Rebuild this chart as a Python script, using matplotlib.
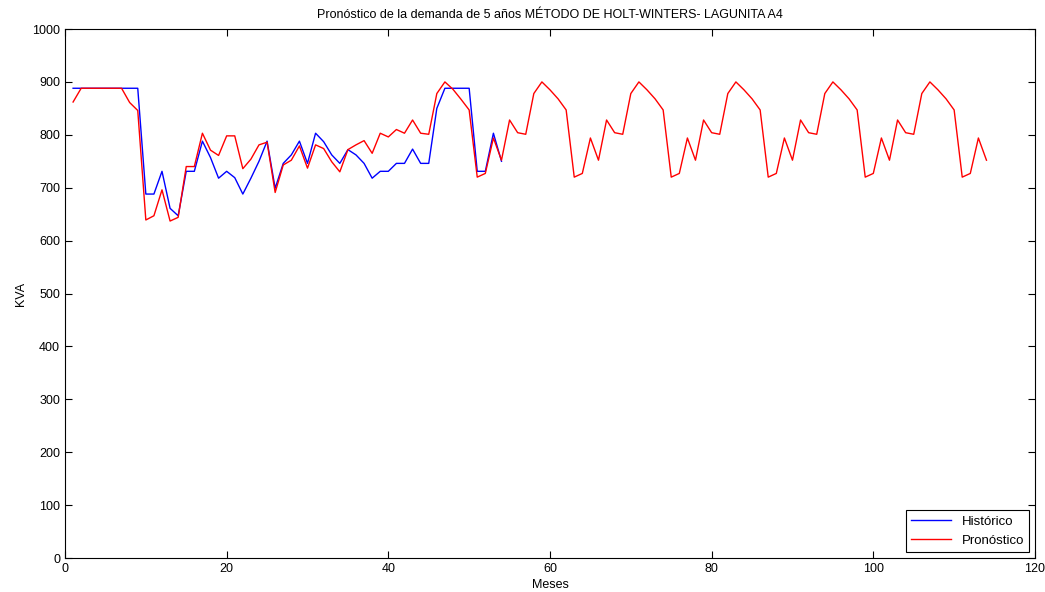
import numpy as np
import matplotlib
matplotlib.use('Agg')
import matplotlib.pyplot as plt

# historico (meses 1..54)
historico = [888, 888, 888, 888, 888, 888, 888, 888, 888, 688,
             688, 731, 661, 647, 731, 731, 788, 757, 718, 731,
             719, 688, 718, 750, 788, 699, 746, 762, 788, 746,
             803, 787, 762, 746, 772, 762, 746, 718, 731, 731,
             746, 746, 773, 746, 746, 850, 888, 888, 888, 888,
             731, 731, 803, 750]

# pronostico (meses 1..114)
pronostico = [862, 888, 888, 888, 888, 888, 888, 861, 846, 639,
              647, 696, 637, 644, 740, 740, 803, 771, 761, 798,
              798, 736, 754, 781, 786, 691, 743, 752, 779, 737,
              781, 774, 749, 730, 772, 781, 789, 765, 803, 796,
              810, 803, 828, 803, 801,
              878, 900, 886, 867, 847, 720, 727, 794, 752, 828, 804, 801,
              878, 900, 885, 868, 847, 720, 727, 794, 752, 828, 804, 801,
              878, 900, 885, 868, 847, 720, 727, 794, 752, 828, 804, 801,
              878, 900, 885, 868, 847, 720, 727, 794, 752, 828, 804, 801,
              878, 900, 885, 868, 847, 720, 727, 794, 752, 828, 804, 801,
              878, 900, 885, 868, 847, 720, 727, 794, 752]

meses_hist = np.arange(1, len(historico) + 1)
meses_pron = np.arange(1, len(pronostico) + 1)

plt.rcParams['font.family'] = ['Liberation Sans', 'DejaVu Sans']
plt.rcParams['font.size'] = 9

fig = plt.figure(figsize=(10.45, 5.92), dpi=100)
ax = fig.add_axes([0.0622, 0.0574, 0.9282, 0.8936])

ax.plot(meses_hist, historico, color='blue', linewidth=1, label='Histórico')
ax.plot(meses_pron, pronostico, color='red', linewidth=1, label='Pronóstico')

ax.set_xlim(0, 120)
ax.set_ylim(0, 1000)
ax.set_xticks(np.arange(0, 121, 20))
ax.set_yticks(np.arange(0, 1001, 100))
ax.tick_params(direction='in', top=True, right=True, length=5, labelsize=9)
for s in ax.spines.values():
    s.set_linewidth(0.8)

ax.set_title('Pronóstico de la demanda de 5 años MÉTODO DE HOLT-WINTERS- LAGUNITA A4',
             fontsize=9, pad=8)
ax.set_xlabel('Meses', fontsize=9, labelpad=3)
ax.set_ylabel('KVA', fontsize=9, labelpad=4)

leg = ax.legend(loc='lower right', fancybox=False, edgecolor='black',
                framealpha=1, fontsize=9.5, handlelength=3.0, borderaxespad=0.45)
leg.get_frame().set_linewidth(0.8)

fig.savefig('out.png', dpi=100)
